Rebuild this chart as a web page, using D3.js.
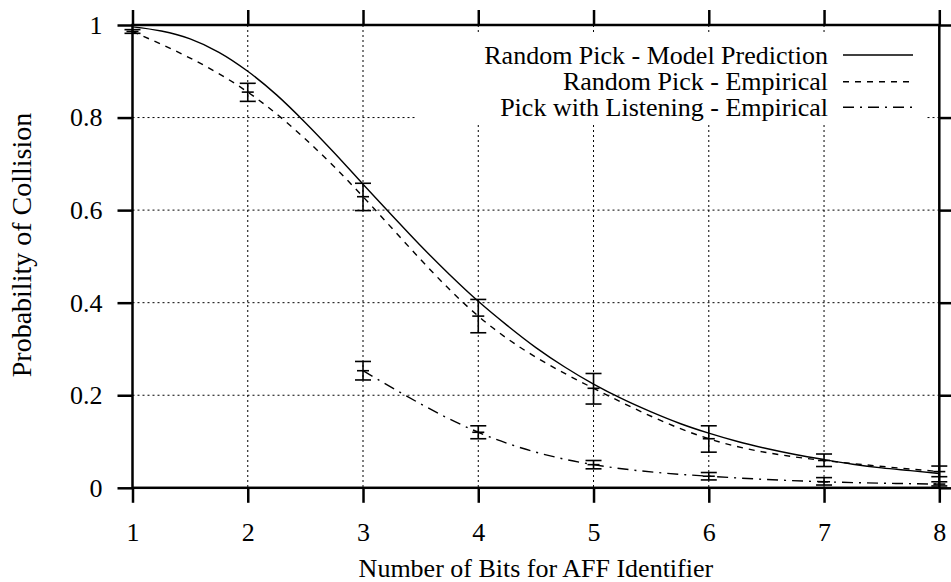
<!DOCTYPE html>
<html>
<head>
<meta charset="utf-8">
<script src="https://cdn.jsdelivr.net/npm/d3@7/dist/d3.min.js"></script>
<style>
  html, body { margin: 0; padding: 0; background: #fff; }
  svg { display: block; }
</style>
</head>
<body>
<svg id="chart" width="951" height="582"></svg>
<script>
// ---- data ----
const xTicks = [1, 2, 3, 4, 5, 6, 7, 8];
const yTicks = [0, 0.2, 0.4, 0.6, 0.8, 1];
const yTickLabels = ["0", "0.2", "0.4", "0.6", "0.8", "1"];

// Random Pick - Model Prediction (smooth curve)
const modelX = [1, 1.25, 1.5, 1.75, 2, 2.25, 2.5, 2.75, 3, 3.25, 3.5, 3.75, 4, 4.25, 4.5, 4.75, 5, 5.25, 5.5, 5.75, 6, 6.25, 6.5, 6.75, 7, 7.25, 7.5, 7.75, 8];
const modelY = [0.996, 0.987, 0.970, 0.941, 0.900, 0.849, 0.789, 0.724, 0.656, 0.589, 0.523, 0.461, 0.403, 0.351, 0.303, 0.261, 0.224, 0.192, 0.164, 0.139, 0.118, 0.100, 0.085, 0.072, 0.061, 0.051, 0.043, 0.037, 0.031];

// Random Pick - Empirical (mean with error bars)
const empX = [1, 2, 3, 4, 5, 6, 7, 8];
const empMean = [0.986, 0.855, 0.629, 0.371, 0.215, 0.106, 0.059, 0.035];
const empLo = [0.982, 0.835, 0.599, 0.335, 0.181, 0.077, 0.046, 0.024];
const empHi = [0.990, 0.874, 0.658, 0.407, 0.247, 0.134, 0.073, 0.047];

// Pick with Listening - Empirical
const lisX = [3, 4, 5, 6, 7, 8];
const lisMean = [0.253, 0.120, 0.050, 0.025, 0.013, 0.008];
const lisLo = [0.233, 0.106, 0.041, 0.017, 0.006, 0.004];
const lisHi = [0.273, 0.134, 0.059, 0.033, 0.022, 0.013];

const legendLabels = ["Random Pick - Model Prediction", "Random Pick - Empirical", "Pick with Listening - Empirical"];
const xTitle = "Number of Bits for AFF Identifier";
const yTitle = "Probability of Collision";

// ---- layout ----
const FONT = "Liberation Serif";
const L = 132.5, R = 939.3, T = 25, B = 487.8;
const FS = 26;
const svg = d3.select("#chart").attr("font-family", FONT);
const x = d3.scaleLinear().domain([1, 8]).range([L, R]);
const y = d3.scaleLinear().domain([0, 1]).range([B, T]);

svg.append("rect").attr("width", 951).attr("height", 582).attr("fill", "#fff");

// grid
const grid = svg.append("g").attr("stroke", "#000").attr("stroke-width", 1).attr("stroke-dasharray", "2,3");
grid.selectAll("line.gx").data(xTicks.slice(1, -1)).join("line")
  .attr("x1", d => x(d)).attr("x2", d => x(d)).attr("y1", T).attr("y2", B);
grid.selectAll("line.gy").data(yTicks.slice(1, -1)).join("line")
  .attr("x1", L).attr("x2", R).attr("y1", d => y(d)).attr("y2", d => y(d));

// legend backdrop (blanks grid under key)
svg.append("rect").attr("x", 415).attr("y", 33).attr("width", 510).attr("height", 92).attr("fill", "#fff");

// axes with outward, mirrored ticks
function styleAxis(g) {
  g.attr("font-family", FONT).attr("font-size", FS);
  g.select(".domain").remove();
  g.selectAll(".tick line").attr("stroke", "#000").attr("stroke-width", 2.5);
  g.selectAll("text").attr("font-family", FONT).attr("font-size", FS).attr("fill", "#000");
}
const gB = svg.append("g").attr("transform", `translate(0,${B})`)
  .call(d3.axisBottom(x).tickValues(xTicks).tickSize(15).tickSizeOuter(0).tickFormat(d3.format("d")));
styleAxis(gB);
gB.selectAll("text").attr("y", 53).attr("dy", null);

const gT = svg.append("g").attr("transform", `translate(0,${T})`)
  .call(d3.axisTop(x).tickValues(xTicks).tickSize(15).tickSizeOuter(0).tickFormat(""));
styleAxis(gT);

const gL = svg.append("g").attr("transform", `translate(${L},0)`)
  .call(d3.axisLeft(y).tickValues(yTicks).tickSize(15).tickPadding(15).tickSizeOuter(0).tickFormat((d, i) => yTickLabels[i]));
styleAxis(gL);

const gR = svg.append("g").attr("transform", `translate(${R},0)`)
  .call(d3.axisRight(y).tickValues(yTicks).tickSize(15).tickSizeOuter(0).tickFormat(""));
styleAxis(gR);

// border
svg.append("rect").attr("x", L).attr("y", T).attr("width", R - L).attr("height", B - T)
  .attr("fill", "none").attr("stroke", "#000").attr("stroke-width", 2.5);

// series
const dashes = [null, "6,6", "11,6,2,6"];
const lineModel = d3.line().x((d, i) => x(modelX[i])).y(d => y(d)).curve(d3.curveMonotoneX);
svg.append("path").datum(modelY).attr("d", lineModel)
  .attr("fill", "none").attr("stroke", "#000").attr("stroke-width", 1.4);

const lineEmp = d3.line().x((d, i) => x(empX[i])).y(d => y(d)).curve(d3.curveNatural);
svg.append("path").datum(empMean).attr("d", lineEmp)
  .attr("fill", "none").attr("stroke", "#000").attr("stroke-width", 1.4).attr("stroke-dasharray", dashes[1]);

const lineLis = d3.line().x((d, i) => x(lisX[i])).y(d => y(d)).curve(d3.curveNatural);
svg.append("path").datum(lisMean).attr("d", lineLis)
  .attr("fill", "none").attr("stroke", "#000").attr("stroke-width", 1.4).attr("stroke-dasharray", dashes[2]);

// error bars
function errorBars(xs, means, los, his) {
  const g = svg.append("g").attr("stroke", "#000").attr("stroke-width", 1.6).attr("fill", "none");
  xs.forEach((xv, i) => {
    const cx = x(xv);
    g.append("line").attr("x1", cx).attr("x2", cx).attr("y1", y(los[i])).attr("y2", y(his[i]));
    g.append("line").attr("x1", cx - 8).attr("x2", cx + 8).attr("y1", y(los[i])).attr("y2", y(los[i]));
    g.append("line").attr("x1", cx - 8).attr("x2", cx + 8).attr("y1", y(his[i])).attr("y2", y(his[i]));
    g.append("line").attr("x1", cx - 6).attr("x2", cx + 6).attr("y1", y(means[i])).attr("y2", y(means[i]));
  });
}
errorBars(empX, empMean, empLo, empHi);
errorBars(lisX, lisMean, lisLo, lisHi);

// legend
const rowsY = [55, 81.7, 107.3];
legendLabels.forEach((lab, i) => {
  svg.append("text").attr("x", 828).attr("y", rowsY[i] + 8.5)
    .attr("text-anchor", "end").attr("font-size", FS).text(lab);
  svg.append("line").attr("x1", 843).attr("x2", 913).attr("y1", rowsY[i]).attr("y2", rowsY[i])
    .attr("stroke", "#000").attr("stroke-width", 1.4).attr("stroke-dasharray", dashes[i]);
});

// titles
svg.append("text").attr("x", (L + R) / 2).attr("y", 577).attr("text-anchor", "middle")
  .attr("font-size", FS).text(xTitle);
svg.append("text").attr("transform", "translate(31,245) rotate(-90)").attr("text-anchor", "middle")
  .attr("font-size", 28).text(yTitle);
</script>
</body>
</html>
